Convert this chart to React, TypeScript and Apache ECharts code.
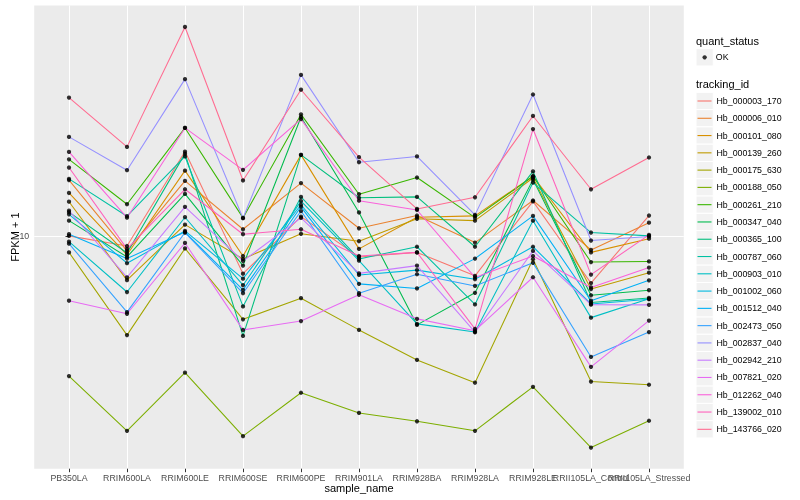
import React, { useEffect, useRef } from "react";
import * as echarts from "echarts";

const categories = ["PB350LA", "RRIM600LA", "RRIM600LE", "RRIM600SE", "RRIM600PE", "RRIM901LA", "RRIM928BA", "RRIM928LA", "RRIM928LE", "RRII105LA_Control", "RRII105LA_Stressed"];

const trackingIds = ["Hb_000003_170", "Hb_000006_010", "Hb_000101_080", "Hb_000139_260", "Hb_000175_630", "Hb_000188_050", "Hb_000261_210", "Hb_000347_040", "Hb_000365_100", "Hb_000787_060", "Hb_000903_010", "Hb_001002_060", "Hb_001512_040", "Hb_002473_050", "Hb_002837_040", "Hb_002942_210", "Hb_007821_020", "Hb_012262_040", "Hb_139002_010", "Hb_143766_020"];

const colors = ["#F8766D", "#EA8331", "#D89000", "#C09B00", "#A3A500", "#7CAE00", "#39B600", "#00BB4E", "#00BF7D", "#00C1A3", "#00BFC4", "#00BAE0", "#00B0F6", "#35A2FF", "#9590FF", "#C77CFF", "#E76BF3", "#FA62DB", "#FF62BC", "#FF6C91"];

// FPKM + 1 per sample, in the order of `categories`
const Hb_000003_170 = [10.0, 9.25, 19.1, 7.48, 11.59, 8.51, 8.81, 7.36, 13.03, 6.96, 11.69];
const Hb_000006_010 = [15.35, 8.91, 15.25, 10.52, 15.0, 10.6, 11.69, 9.5, 13.12, 8.98, 11.07];
const Hb_000101_080 = [13.9, 8.65, 16.5, 8.57, 18.62, 9.05, 11.54, 11.66, 15.8, 8.81, 9.79];
const Hb_000139_260 = [13.0, 7.12, 10.9, 8.38, 10.16, 9.6, 11.4, 11.24, 15.6, 6.65, 7.54];
const Hb_000175_630 = [8.81, 4.67, 9.08, 5.27, 6.2, 4.86, 3.86, 3.24, 8.36, 3.27, 3.19];
const Hb_000188_050 = [3.41, 2.24, 3.5, 2.15, 3.0, 2.57, 2.41, 2.24, 3.14, 1.97, 2.42];
const Hb_000261_210 = [18.0, 12.75, 22.9, 11.48, 25.4, 13.77, 15.65, 11.5, 15.8, 8.18, 8.22];
const Hb_000347_040 = [11.24, 8.51, 13.8, 7.96, 24.9, 11.97, 5.05, 6.46, 15.4, 6.34, 6.59];
const Hb_000365_100 = [12.0, 8.77, 18.8, 4.64, 18.62, 13.4, 13.49, 9.2, 16.4, 6.0, 6.21];
const Hb_000787_060 = [15.49, 11.63, 18.4, 5.82, 13.49, 8.38, 9.2, 5.91, 15.06, 10.26, 10.0];
const Hb_000903_010 = [9.57, 6.5, 11.54, 6.85, 13.06, 8.27, 5.09, 4.78, 11.24, 5.34, 6.17];
const Hb_001002_060 = [11.8, 8.11, 10.39, 7.2, 12.7, 7.41, 7.69, 7.17, 9.2, 5.93, 6.15];
const Hb_001512_040 = [10.13, 8.4, 10.3, 6.61, 12.5, 6.92, 6.68, 8.4, 11.66, 6.08, 7.11];
const Hb_002473_050 = [9.42, 5.57, 10.26, 6.44, 12.1, 6.44, 7.45, 6.81, 8.13, 3.95, 4.78];
const Hb_002837_040 = [21.38, 16.56, 33.3, 11.45, 34.4, 17.6, 18.4, 11.75, 29.6, 9.65, 9.96];
const Hb_002942_210 = [12.13, 7.27, 12.5, 8.25, 11.48, 7.5, 7.96, 4.78, 8.91, 5.9, 5.89];
const Hb_007821_020 = [6.08, 5.5, 9.47, 4.86, 5.2, 6.36, 5.29, 4.83, 7.28, 3.66, 5.22];
const Hb_012262_040 = [19.05, 11.5, 22.9, 16.6, 24.5, 13.1, 12.2, 7.27, 8.57, 6.73, 7.84];
const Hb_139002_010 = [16.9, 9.05, 14.3, 10.13, 10.52, 8.57, 8.81, 4.9, 22.7, 7.43, 10.08];
const Hb_143766_020 = [28.9, 19.8, 49.7, 15.3, 30.7, 18.3, 12.3, 13.45, 25.1, 14.3, 18.25];

const seriesValues = [Hb_000003_170, Hb_000006_010, Hb_000101_080, Hb_000139_260, Hb_000175_630, Hb_000188_050, Hb_000261_210, Hb_000347_040, Hb_000365_100, Hb_000787_060, Hb_000903_010, Hb_001002_060, Hb_001512_040, Hb_002473_050, Hb_002837_040, Hb_002942_210, Hb_007821_020, Hb_012262_040, Hb_139002_010, Hb_143766_020];

const yTicks = [10];
const yMin = 1.675;
const yMax = 58.6;

const FONT = "'Liberation Sans', Arial, Helvetica, sans-serif";

export default function App() {
  const ref = useRef<HTMLDivElement>(null);
  useEffect(() => {
    if (!ref.current) return;
    const chart = echarts.init(ref.current, undefined, { renderer: "svg" });
    const catIdx = categories.map((_, i) => i);
    // labels split over two axes so that ECharts does not drop overlapping end labels
    const labelsA = catIdx.filter((i) => i !== categories.length - 2);
    const labelsB = [categories.length - 2];
    const lineSeries = seriesValues.map((vals, s) => ({
      type: "line",
      name: trackingIds[s],
      data: vals.map((v, i) => [i, v]),
      symbol: "none",
      color: colors[s],
      lineStyle: { width: 1.07, color: colors[s] },
      silent: true,
      z: 2,
    }));
    const points: number[][] = [];
    seriesValues.forEach((vals) => vals.forEach((v, i) => points.push([i, v])));
    const rowH = 17.28;
    const legTop = 92.36;
    const keyRects: any[] = trackingIds.map((_, i) => ({
      type: "rect",
      shape: { x: 696, y: legTop + i * rowH, width: rowH, height: rowH },
      style: { fill: "#F2F2F2", stroke: "#FFFFFF", lineWidth: 1 },
      z: 0,
    }));
    keyRects.push({
      type: "rect",
      shape: { x: 696, y: 48.66, width: rowH, height: rowH },
      style: { fill: "#F2F2F2", stroke: "#FFFFFF", lineWidth: 1 },
      z: 0,
    });
    const xLabelStyle = {
      margin: 4.5,
      fontSize: 8.8,
      color: "#4D4D4D",
      fontFamily: FONT,
      hideOverlap: false,
      formatter: (v: number) => categories[Math.round(v)] ?? "",
    };
    chart.setOption({
      animation: false,
      textStyle: { fontFamily: FONT },
      title: [
        { text: "quant_status", left: 696, top: 34.2, padding: 0, textStyle: { fontSize: 11, fontWeight: "normal", color: "#000", lineHeight: 13, fontFamily: FONT } },
        { text: "tracking_id", left: 696, top: 77.8, padding: 0, textStyle: { fontSize: 11, fontWeight: "normal", color: "#000", lineHeight: 13, fontFamily: FONT } },
      ],
      graphic: keyRects,
      legend: [
        {
          data: ["OK"],
          orient: "vertical",
          left: 702.5,
          top: 48.66,
          padding: 0,
          itemWidth: 4.3,
          itemHeight: 4.3,
          icon: "circle",
          selectedMode: false,
          textStyle: { fontSize: 8.8, lineHeight: rowH, color: "#000", padding: [0, 0, 0, 4], fontFamily: FONT },
        },
        {
          data: trackingIds,
          orient: "vertical",
          left: 697.5,
          top: legTop,
          padding: 0,
          itemGap: 0,
          itemWidth: 14,
          itemHeight: 1.1,
          icon: "rect",
          selectedMode: false,
          textStyle: { fontSize: 8.8, lineHeight: rowH, color: "#000", fontFamily: FONT },
        },
      ],
      grid: {
        left: 34.2,
        right: 116.2,
        top: 5.5,
        bottom: 31.3,
        containLabel: false,
        outerBoundsMode: "none",
        show: true,
        backgroundColor: "#EBEBEB",
        borderWidth: 0,
      },
      xAxis: [
        {
          type: "value",
          min: -0.6,
          max: 10.6,
          position: "bottom",
          offset: 0,
          name: "sample_name",
          nameLocation: "middle",
          nameGap: 14,
          nameMoveOverlap: false,
          nameTextStyle: { fontSize: 11, color: "#000", fontFamily: FONT },
          axisLine: { show: false },
          axisTick: { show: true, length: 3.5, lineStyle: { color: "#333333", width: 1 }, customValues: catIdx },
          axisLabel: { ...xLabelStyle, customValues: labelsA, showMinLabel: true, showMaxLabel: true },
          splitLine: { show: true, lineStyle: { color: "#FFFFFF", width: 1.07 } },
        },
        {
          type: "value",
          min: -0.6,
          max: 10.6,
          position: "bottom",
          offset: 0,
          axisLine: { show: false },
          axisTick: { show: false },
          axisLabel: { ...xLabelStyle, customValues: labelsB, showMinLabel: true, showMaxLabel: true },
          splitLine: { show: false },
        },
      ],
      yAxis: {
        type: "log",
        logBase: 10,
        min: yMin,
        max: yMax,
        name: "FPKM + 1",
        nameLocation: "middle",
        nameGap: 14,
        nameMoveOverlap: false,
        nameTextStyle: { fontSize: 11, color: "#000", fontFamily: FONT },
        axisLine: { show: false },
        axisTick: { show: true, length: 3.5, lineStyle: { color: "#333333", width: 1 }, customValues: yTicks },
        axisLabel: {
          customValues: yTicks,
          margin: 5,
          fontSize: 8.8,
          color: "#4D4D4D",
          fontFamily: FONT,
          showMinLabel: false,
          showMaxLabel: false,
        },
        splitLine: { show: true, lineStyle: { color: "#FFFFFF", width: 1.07 } },
      },
      series: [
        ...lineSeries,
        {
          type: "scatter",
          name: "OK",
          data: points,
          symbol: "circle",
          symbolSize: 4.3,
          color: "#000000",
          itemStyle: { color: "#000000" },
          silent: true,
          z: 3,
        },
      ],
    });
    return () => chart.dispose();
  }, []);
  return <div ref={ref} style={{ position: "fixed", left: 0, top: 0, width: 800, height: 500 }} />;
}
